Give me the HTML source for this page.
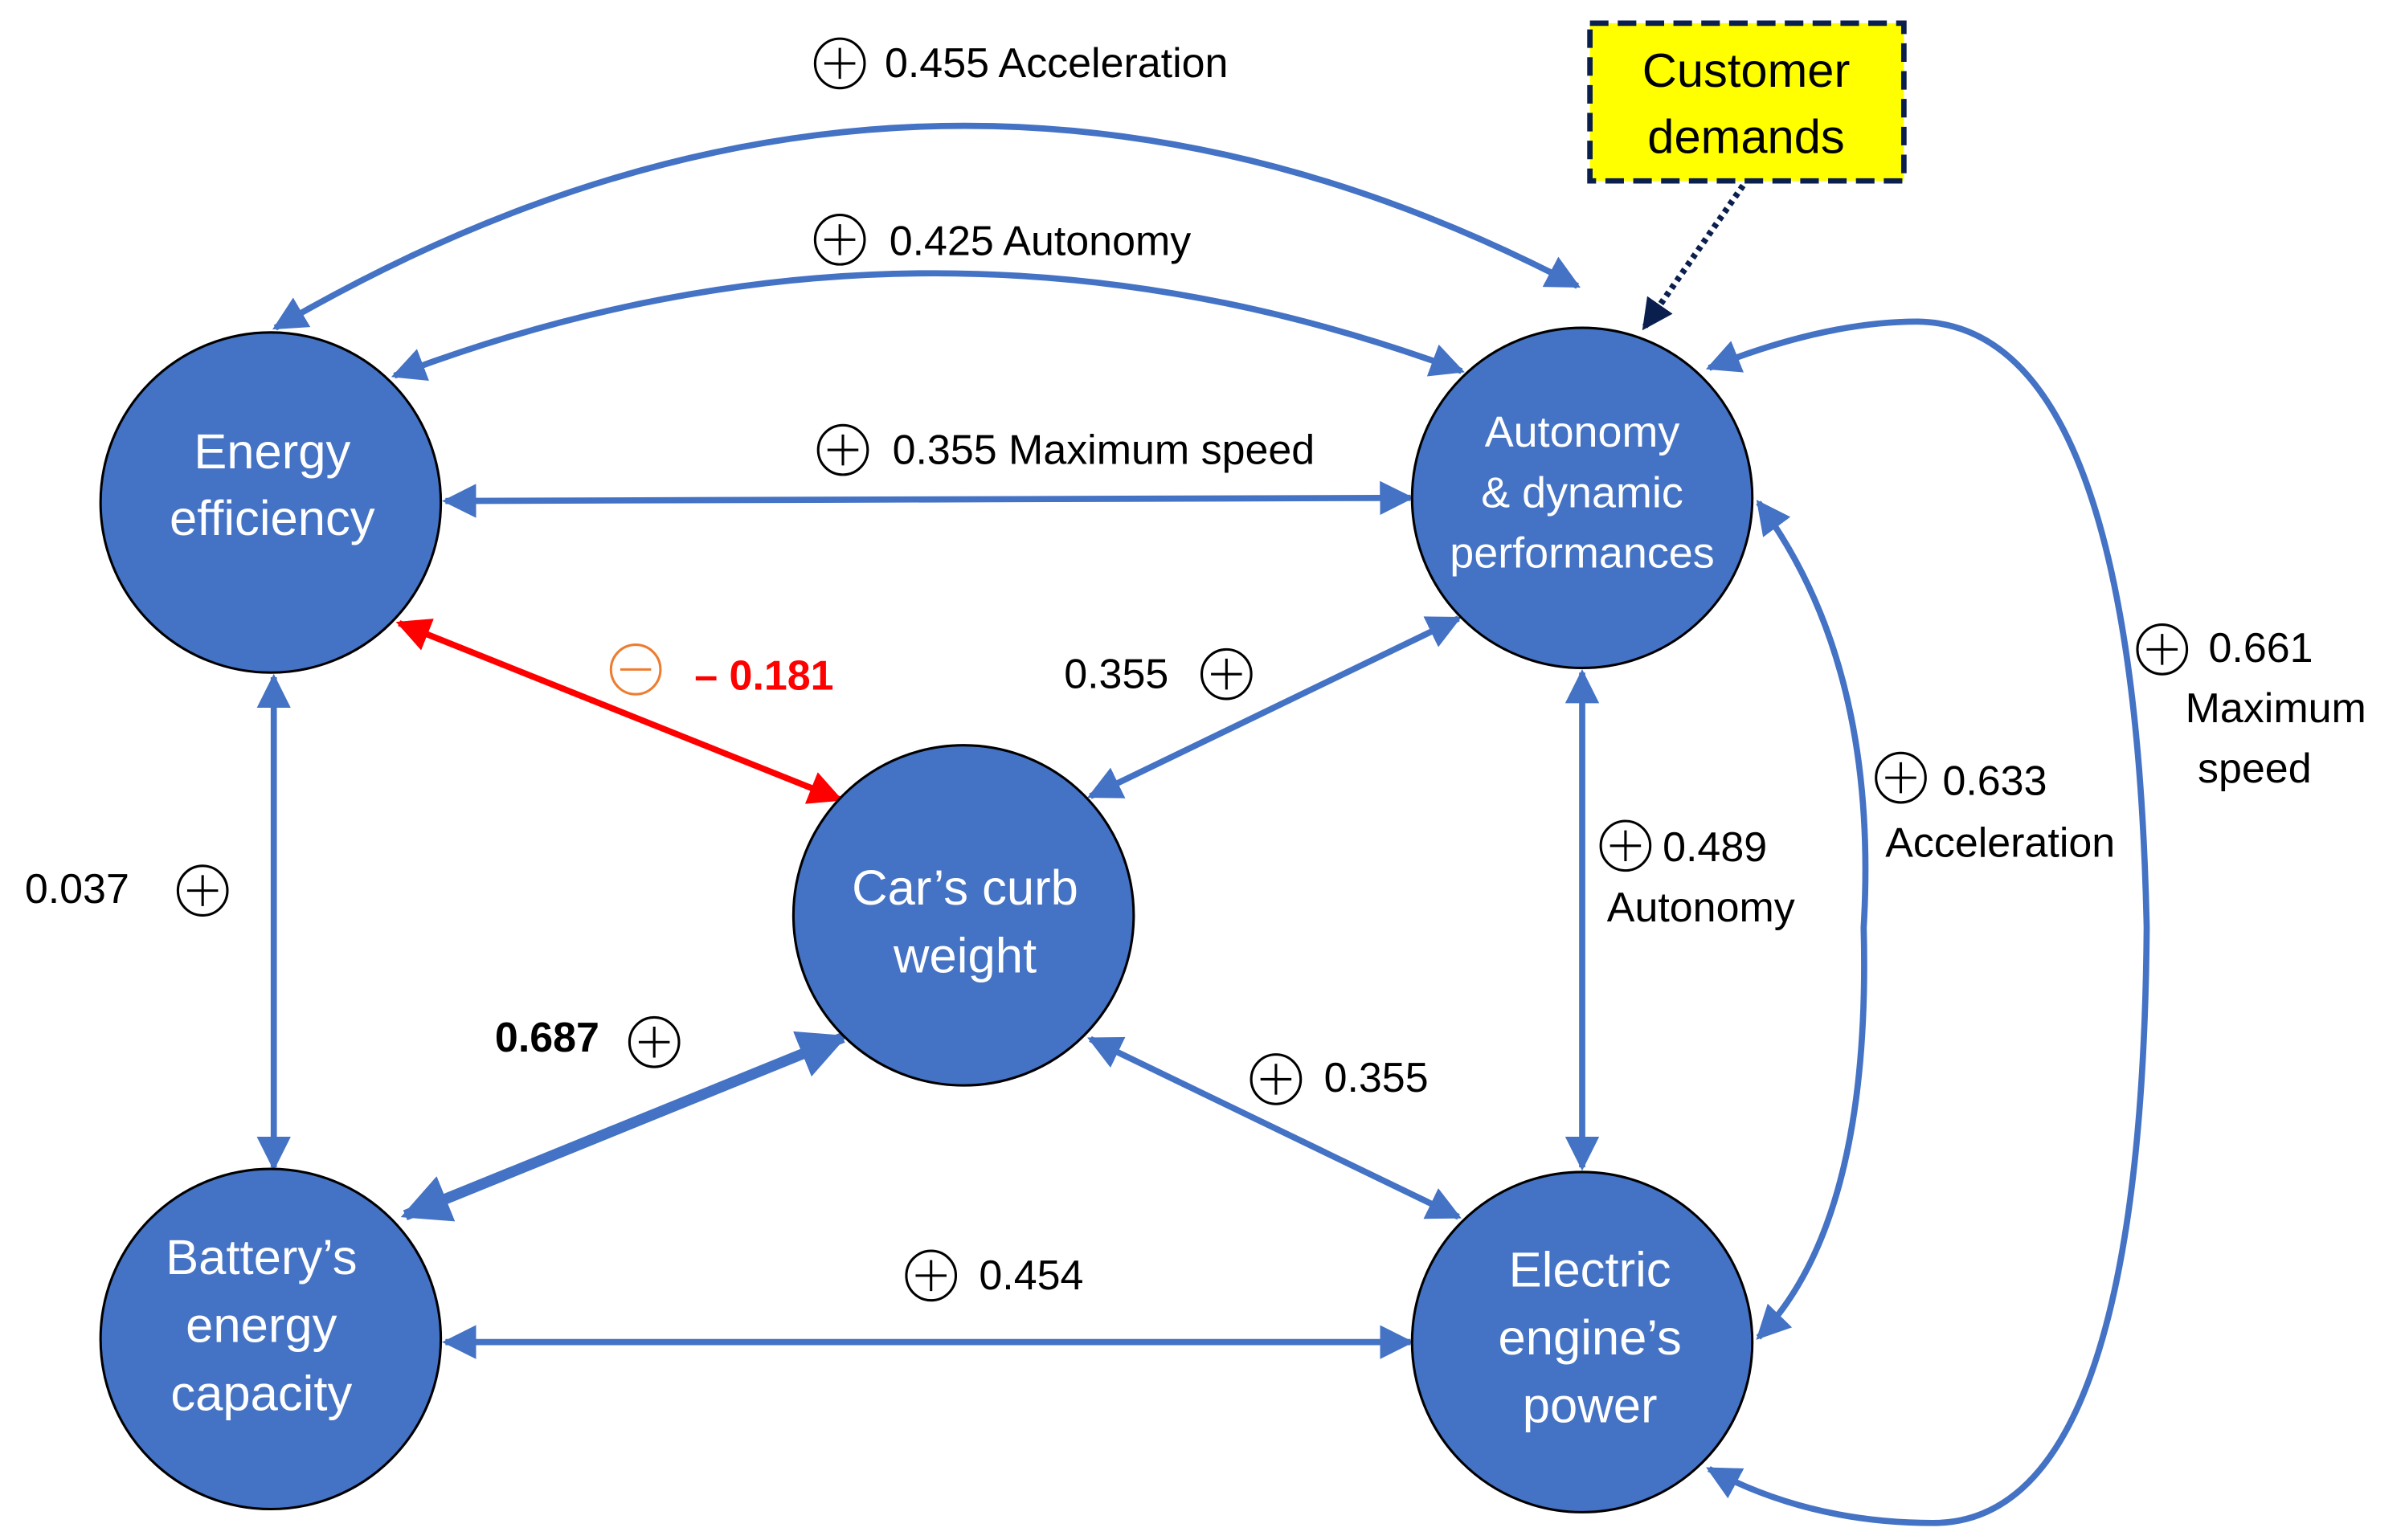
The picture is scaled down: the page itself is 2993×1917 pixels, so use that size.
<!DOCTYPE html>
<html><head><meta charset="utf-8"><style>
html,body{margin:0;padding:0;background:#fff;}
svg{display:block;}
text{font-family:"Liberation Sans","DejaVu Sans",sans-serif;}
</style></head><body>
<svg width="2993" height="1917" viewBox="0 0 1555 996" xmlns="http://www.w3.org/2000/svg">
<defs>
<marker id="a" viewBox="0 0 10 10" refX="9" refY="5" markerWidth="5.5" markerHeight="5.5" orient="auto-start-reverse" markerUnits="strokeWidth"><path d="M0,0 L10,5 L0,10 z" fill="#4472C4"/></marker>
<marker id="ab" viewBox="0 0 10 10" refX="9" refY="5" markerWidth="4.5" markerHeight="4.5" orient="auto-start-reverse" markerUnits="strokeWidth"><path d="M0,0 L10,5 L0,10 z" fill="#4472C4"/></marker>
<marker id="r" viewBox="0 0 10 10" refX="9" refY="5" markerWidth="5.5" markerHeight="5.5" orient="auto-start-reverse" markerUnits="strokeWidth"><path d="M0,0 L10,5 L0,10 z" fill="#FF0000"/></marker>
<marker id="n" viewBox="0 0 10 10" refX="9" refY="5" markerWidth="5" markerHeight="5" orient="auto" markerUnits="strokeWidth"><path d="M0,0 L10,5 L0,10 z" fill="#0B1F4F"/></marker>
<g id="p"><circle r="16" fill="none" stroke="#000" stroke-width="1.6"/><path d="M-10,0H10M0,-10V10" stroke="#000" stroke-width="1.6"/></g>
</defs>
<g fill="none" stroke="#4472C4" stroke-width="4">
<path d="M178,212 Q600,-35 1020,185" marker-start="url(#a)" marker-end="url(#a)"/>
<path d="M255,243 Q600,112 945,240" marker-start="url(#a)" marker-end="url(#a)"/>
<path d="M288,324 L912,322" marker-start="url(#a)" marker-end="url(#a)"/>
<path d="M943,400 L705,515" marker-start="url(#a)" marker-end="url(#a)"/>
<path d="M177,438 L177,755" marker-start="url(#a)" marker-end="url(#a)"/>
<path d="M262,786 L545,671" stroke-width="7" marker-start="url(#ab)" marker-end="url(#ab)"/>
<path d="M705,672 L943,787" marker-start="url(#a)" marker-end="url(#a)"/>
<path d="M288,868 L912,868" marker-start="url(#a)" marker-end="url(#a)"/>
<path d="M1023,435 L1023,755" marker-start="url(#a)" marker-end="url(#a)"/>
<path d="M1137,325 Q1215,430 1205,600 Q1210,790 1137,865" marker-start="url(#a)" marker-end="url(#a)"/>
<path d="M1105,238 Q1180,208 1240,208 Q1380,210 1388,600 Q1385,985 1250,985 Q1170,985 1105,950" marker-start="url(#a)" marker-end="url(#a)"/>
</g>
<path d="M258,403 L543,517" stroke="#FF0000" stroke-width="4" marker-start="url(#r)" marker-end="url(#r)"/>
<path d="M1127,120 L1063,212" stroke="#0B1F4F" stroke-width="4" stroke-dasharray="3,3" marker-end="url(#n)"/>
<rect x="1028" y="15" width="203" height="102" fill="#FFFF00" stroke="#0B1F4F" stroke-width="3.5" stroke-dasharray="12,6"/>
<text x="1129" y="56" font-size="31" text-anchor="middle" fill="#000">Customer</text>
<text x="1129" y="99" font-size="31" text-anchor="middle" fill="#000">demands</text>
<g fill="#4472C4" stroke="#000" stroke-width="1.6">
<circle cx="175" cy="325" r="110"/><circle cx="1023" cy="322" r="110"/><circle cx="623" cy="592" r="110"/><circle cx="175" cy="866" r="110"/><circle cx="1023" cy="868" r="110"/>
</g>
<g fill="#fff" text-anchor="middle">
<text x="176" y="303" font-size="32">Energy</text><text x="176" y="346" font-size="32">efficiency</text>
<text x="1023" y="289" font-size="28">Autonomy</text><text x="1023" y="328" font-size="28">&amp; dynamic</text><text x="1023" y="367" font-size="28">performances</text>
<text x="624" y="585" font-size="32">Car’s curb</text><text x="624" y="629" font-size="32">weight</text>
<text x="169" y="824" font-size="32">Battery’s</text><text x="169" y="868" font-size="32">energy</text><text x="169" y="912" font-size="32">capacity</text>
<text x="1028" y="832" font-size="32">Electric</text><text x="1028" y="876" font-size="32">engine’s</text><text x="1028" y="920" font-size="32">power</text>
</g>
<g font-size="27" fill="#000">
<use href="#p" x="543" y="41"/><text x="572" y="50">0.455 Acceleration</text>
<use href="#p" x="543" y="155"/><text x="575" y="165">0.425 Autonomy</text>
<use href="#p" x="545" y="291"/><text x="577" y="300">0.355 Maximum speed</text>
<text x="688" y="445">0.355</text><use href="#p" x="793" y="436"/>
<text x="16" y="584">0.037</text><use href="#p" x="131" y="576"/>
<text x="320" y="680" font-weight="bold">0.687</text><use href="#p" x="423" y="674"/>
<use href="#p" x="825" y="698"/><text x="856" y="706">0.355</text>
<use href="#p" x="602" y="825"/><text x="633" y="834">0.454</text>
<use href="#p" x="1051" y="547"/><text x="1075" y="557">0.489</text><text x="1039" y="596">Autonomy</text>
<use href="#p" x="1229" y="503"/><text x="1256" y="514">0.633</text><text x="1219" y="554">Acceleration</text>
<use href="#p" x="1398" y="420"/><text x="1428" y="428">0.661</text><text x="1413" y="467">Maximum</text><text x="1421" y="506">speed</text>
<circle cx="411" cy="433" r="16" fill="none" stroke="#ED7D31" stroke-width="1.6"/><path d="M401,433H421" stroke="#ED7D31" stroke-width="1.6"/>
<text x="449" y="446" fill="#FF0000" font-weight="bold">– 0.181</text>
</g>
</svg>
</body></html>
